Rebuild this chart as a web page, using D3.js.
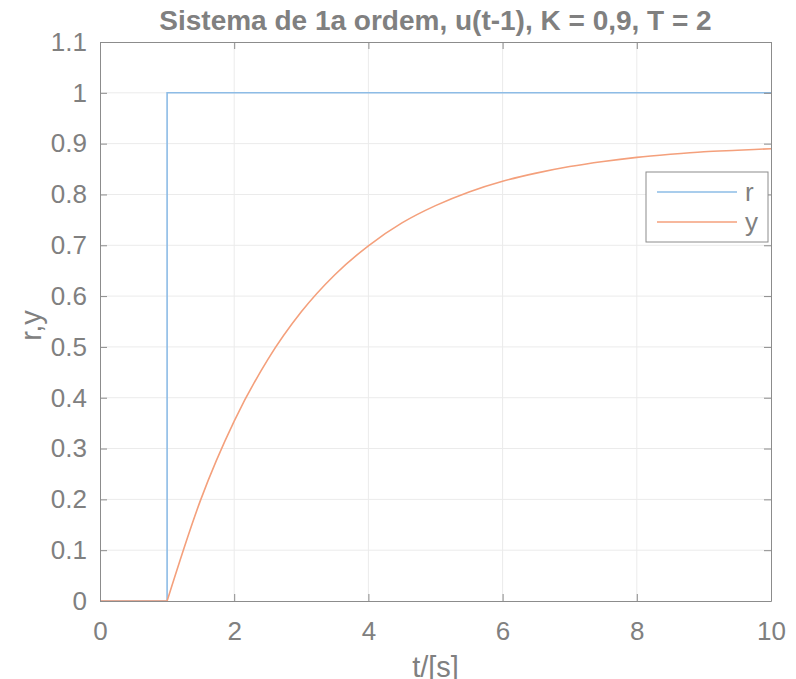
<!DOCTYPE html>
<html>
<head>
<meta charset="utf-8">
<script src="https://cdn.jsdelivr.net/npm/d3@7"></script>
<style>
body { margin: 0; background: #fff; }
text { font-family: "Liberation Sans", Arial, Helvetica, sans-serif; fill: #808080; }
</style>
</head>
<body>
<svg id="chart" width="796" height="679"></svg>
<script>
// reference step r
var rT = [0, 1, 1, 10];
var rV = [0, 0, 1, 1];

// response y
var yT = [1, 1.5, 2, 2.5, 3, 3.5, 4, 4.5, 5, 5.5, 6, 6.5, 7, 7.5, 8, 8.5, 9, 9.5, 10];
var yV = [0, 0.199, 0.354, 0.475, 0.569, 0.642, 0.699, 0.744, 0.778, 0.805, 0.826, 0.842, 0.855, 0.865, 0.873, 0.879, 0.884, 0.887, 0.890];
var yFlatT = [0, 1];
var yFlatV = [0, 0];

var xTicks = [0, 2, 4, 6, 8, 10];
var yTicks = [0, 0.1, 0.2, 0.3, 0.4, 0.5, 0.6, 0.7, 0.8, 0.9, 1, 1.1];
var yTickLabels = ["0", "0.1", "0.2", "0.3", "0.4", "0.5", "0.6", "0.7", "0.8", "0.9", "1", "1.1"];

var plotL = 100, plotR = 771, plotT = 42, plotB = 601;
var axisColor = "#8c8c8c",
	gridColor = "#ebebeb",
	blue = "#8dbce6",
	orange = "#f4a07c";

var svg = d3.select("#chart");

var x = d3.scaleLinear().domain([0, 10]).range([plotL, plotR]);
var y = d3.scaleLinear().domain([0, 1.1]).range([plotB, plotT]);

// grid
svg.append("g").selectAll("line")
	.data(xTicks.slice(1, -1))
	.enter().append("line")
	.attr("x1", d => x(d)).attr("x2", d => x(d))
	.attr("y1", plotT).attr("y2", plotB)
	.attr("stroke", gridColor);
svg.append("g").selectAll("line")
	.data(yTicks.slice(1, -1))
	.enter().append("line")
	.attr("x1", plotL).attr("x2", plotR)
	.attr("y1", d => y(d)).attr("y2", d => y(d))
	.attr("stroke", gridColor);

// lines
var line = d3.line().x(d => x(d[0])).y(d => y(d[1]));
var smooth = d3.line().x(d => x(d[0])).y(d => y(d[1])).curve(d3.curveMonotoneX);

svg.append("path")
	.attr("d", line(d3.zip(rT, rV)))
	.attr("fill", "none").attr("stroke", blue).attr("stroke-width", 1.6);
svg.append("path")
	.attr("d", line(d3.zip(yFlatT, yFlatV)))
	.attr("fill", "none").attr("stroke", orange).attr("stroke-width", 1.6);
svg.append("path")
	.attr("d", smooth(d3.zip(yT, yV)))
	.attr("fill", "none").attr("stroke", orange).attr("stroke-width", 1.6);

// axes with inward ticks
var tickLen = 7;
var xAxis = d3.axisBottom(x).tickValues(xTicks).tickSizeInner(-tickLen).tickSizeOuter(0).tickPadding(21);
var yAxis = d3.axisLeft(y).tickValues(yTicks).tickFormat((d, i) => yTickLabels[i]).tickSizeInner(-tickLen).tickSizeOuter(0).tickPadding(13);

var gx = svg.append("g").attr("transform", "translate(0," + plotB + ")").call(xAxis);
var gy = svg.append("g").attr("transform", "translate(" + plotL + ",0)").call(yAxis);
var gxt = svg.append("g").attr("transform", "translate(0," + plotT + ")")
	.call(d3.axisTop(x).tickValues(xTicks).tickSizeInner(-tickLen).tickSizeOuter(0).tickFormat(""));
var gyr = svg.append("g").attr("transform", "translate(" + plotR + ",0)")
	.call(d3.axisRight(y).tickValues(yTicks).tickSizeInner(-tickLen).tickSizeOuter(0).tickFormat(""));

[gx, gy, gxt, gyr].forEach(function(g) {
	g.selectAll("path, line").attr("stroke", axisColor);
	g.selectAll("text").style("font-size", "26px").attr("fill", "#808080");
});

// labels
svg.append("text")
	.attr("x", (plotL + plotR) / 2).attr("y", 30)
	.attr("text-anchor", "middle")
	.style("font-size", "28px").style("font-weight", "bold")
	.text("Sistema de 1a ordem, u(t-1), K = 0,9, T = 2");
svg.append("text")
	.attr("x", (plotL + plotR) / 2).attr("y", 677)
	.attr("text-anchor", "middle")
	.style("font-size", "29px")
	.text("t/[s]");
svg.append("text")
	.attr("transform", "translate(41," + ((plotT + plotB) / 2 + 4) + ") rotate(-90)")
	.attr("text-anchor", "middle")
	.style("font-size", "29px")
	.text("r,y");

// legend
var legend = svg.append("g").attr("transform", "translate(646,172)");
legend.append("rect")
	.attr("width", 122).attr("height", 70)
	.attr("fill", "#fff").attr("stroke", axisColor);
var legendItems = [{name: "r", color: blue}, {name: "y", color: orange}];
var item = legend.selectAll(".item").data(legendItems).enter().append("g")
	.attr("transform", (d, i) => "translate(0," + (20 + i * 30) + ")");
item.append("line")
	.attr("x1", 11).attr("x2", 91)
	.attr("stroke", d => d.color).attr("stroke-width", 1.6);
item.append("text")
	.attr("x", 99).attr("dy", "0.35em")
	.style("font-size", "26px")
	.text(d => d.name);
</script>
</body>
</html>
